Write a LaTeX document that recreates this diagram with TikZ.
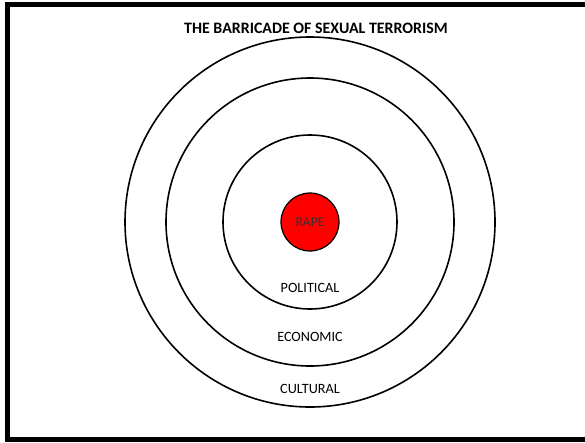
\documentclass[tikz,border=0pt]{standalone}
\usepackage{fontspec}
\setmainfont{Carlito}
\usepackage{xcolor}
\usepackage{tikz}
\definecolor{rapered}{rgb}{1.0, 0.0, 0.0}

\begin{document}
\begin{tikzpicture}[x=1pt, y=-1pt,
    ring/.style={draw, line width=1.6pt},
    ringlabel/.style={font=\fontsize{14.2}{16}\selectfont}]
    \useasboundingbox (0, 0) rectangle (585, 442);
    \clip (0, 0) rectangle (585, 442);

    % Cadre
    \draw[line width=4.8pt] (7.5, 4.5) rectangle (620, 439.5);

    % Titre
    \node[font=\bfseries\fontsize{15.9}{18}\selectfont] (titre) at (316, 28) {THE BARRICADE OF SEXUAL TERRORISM};

    % Cercles concentriques
    \coordinate (centre) at (310, 222);
    \draw[ring] (centre) circle (185);
    \draw[ring] (centre) circle (144);
    \draw[ring] (centre) circle (87);

    % Noyau rouge
    \node[circle, draw, line width=1.2pt, fill=rapered, minimum size=58pt, inner sep=0pt,
          font=\fontsize{13.5}{15}\selectfont, text=black!80] (noyau) at (310, 222) {RAPE};

    % Etiquettes
    \node[ringlabel] (politique) at (310, 288) {POLITICAL};
    \node[ringlabel] (economique) at (310, 337) {ECONOMIC};
    \node[ringlabel] (culturel) at (310, 389) {CULTURAL};
\end{tikzpicture}
\end{document}
